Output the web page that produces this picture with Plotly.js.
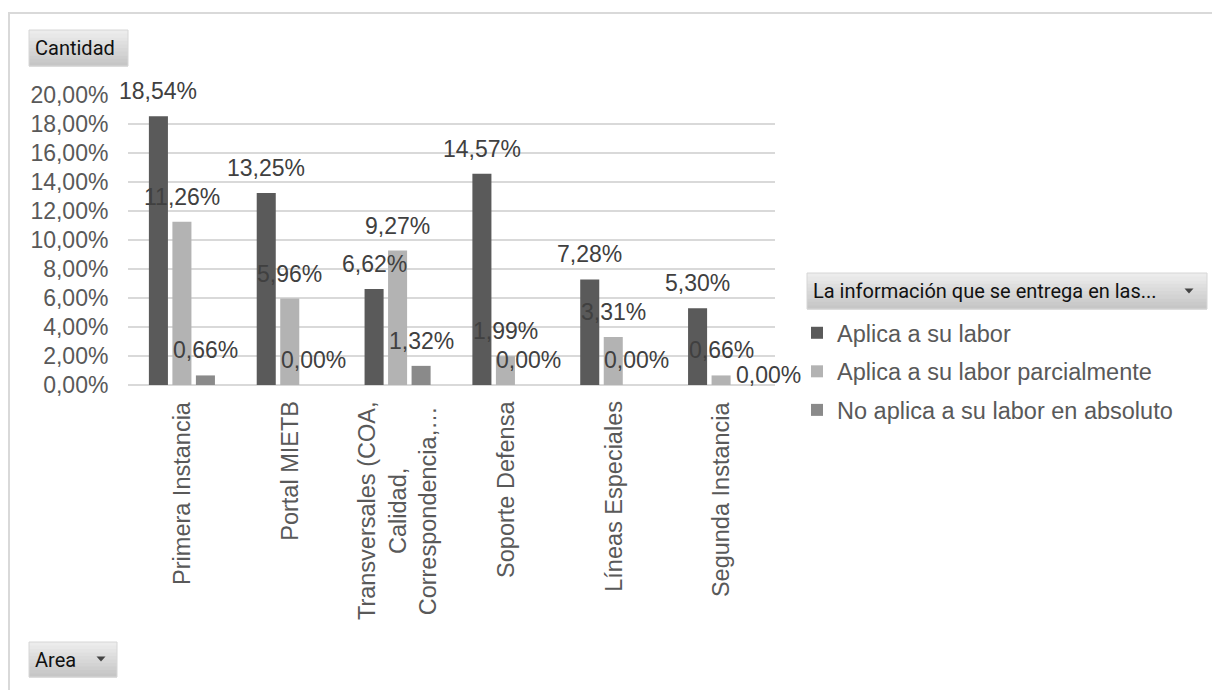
<!DOCTYPE html>
<html>
<head>
<meta charset="utf-8">
<script src="https://cdn.plot.ly/plotly-3.0.1.min.js"></script>
<style>
  html, body { margin: 0; padding: 0; background: #ffffff; }
  #chart { width: 1212px; height: 690px; }
</style>
</head>
<body>
<div id="chart"></div>
<script>
// Categories (x axis) and the wrapped text shown under each group
const areas = ['Primera Instancia', 'Portal MIETB', 'Transversales', 'Soporte Defensa', 'Líneas Especiales', 'Segunda Instancia'];
const areaLabels = ['Primera Instancia', 'Portal MIETB', 'Transversales (COA,<br>Calidad,<br>Correspondencia,…', 'Soporte Defensa', 'Líneas Especiales', 'Segunda Instancia'];

// Series values, in percent
const aplica = [18.54, 13.25, 6.62, 14.57, 7.28, 5.30];
const parcial = [11.26, 5.96, 9.27, 1.99, 3.31, 0.66];
const noAplica = [0.66, 0.00, 1.32, 0.00, 0.00, 0.00];
const seriesNames = ['Aplica a su labor', 'Aplica a su labor parcialmente', 'No aplica a su labor en absoluto'];

// Y axis ticks and their labels
const yTicks = [0, 2, 4, 6, 8, 10, 12, 14, 16, 18, 20];
const yTickText = ['0,00%', '2,00%', '4,00%', '6,00%', '8,00%', '10,00%', '12,00%', '14,00%', '16,00%', '18,00%', '20,00%'];

const seriesValues = [aplica, parcial, noAplica];
const seriesColors = ['#5a5a5a', '#b3b3b3', '#8a8a8a'];

const FONT = 'Liberation Sans, Arial, sans-serif';
const UI_FONT = 'Roboto, Noto Sans, sans-serif';
const W = 1212, H = 690;
const PL = 128, PR = 775, PT = 95, PB = 385;   // plot area edges in pixels
const BARGAP = 0.346, BARGROUPGAP = 0.19;

const px = v => (v - PL) / (PR - PL);
const py = v => (PB - v) / (PB - PT);

function fmt(v) {
  return v.toFixed(2).replace('.', ',') + '%';
}

const traces = seriesValues.map((vals, k) => ({
  type: 'bar',
  name: seriesNames[k],
  legendgroup: 'g' + k,
  x: areas,
  y: vals,
  marker: { color: seriesColors[k], line: { width: 0 } },
  hoverinfo: 'skip'
}));

const annotations = [];

// Value labels above each bar
const slot = (1 - BARGAP) / 3;
const nudges = { '5-2': { dx: 24, dy: -15 } };
seriesValues.forEach((vals, k) => {
  vals.forEach((v, i) => {
    const n = nudges[i + '-' + k] || { dx: 0, dy: 0 };
    annotations.push({
      xref: 'x', yref: 'y',
      x: i + (k - 1) * slot, y: v,
      text: fmt(v),
      showarrow: false,
      xanchor: 'center', yanchor: 'bottom',
      xshift: n.dx, yshift: 10 + n.dy,
      font: { family: FONT, size: 23, color: '#404040' }
    });
  });
});

// Rotated category labels
areaLabels.forEach((t, i) => {
  annotations.push({
    xref: 'x', yref: 'paper',
    x: i, y: 0,
    text: t,
    textangle: -90,
    align: 'center',
    showarrow: false,
    xanchor: 'center', yanchor: 'top',
    yshift: -14,
    font: { family: FONT, size: 23.5, color: '#595959' }
  });
});

// Field buttons
annotations.push({
  xref: 'paper', yref: 'paper', x: px(33), y: py(48),
  xanchor: 'left', yanchor: 'middle', showarrow: false,
  text: 'Cantidad', font: { family: UI_FONT, size: 20, color: '#111111' }
});
annotations.push({
  xref: 'paper', yref: 'paper', x: px(33), y: py(660),
  xanchor: 'left', yanchor: 'middle', showarrow: false,
  text: 'Area', font: { family: UI_FONT, size: 20, color: '#111111' }
});
annotations.push({
  xref: 'paper', yref: 'paper', x: px(811), y: py(291),
  xanchor: 'left', yanchor: 'middle', showarrow: false,
  text: 'La información que se entrega en las...', font: { family: UI_FONT, size: 20, color: '#111111' }
});

const shapes = [];

// Outer frame (top and left edges visible)
shapes.push({
  type: 'path', xref: 'paper', yref: 'paper',
  path: `M ${px(9)} ${py(700)} L ${px(9)} ${py(13)} L ${px(1230)} ${py(13)}`,
  line: { color: '#d9d9d9', width: 2 }, layer: 'below'
});

// Gray gradient button boxes
function button(x0, y0, x1, y1) {
  const bands = 10;
  const top = [236, 236, 236], bot = [198, 198, 198];
  for (let b = 0; b < bands; b++) {
    const f = b / (bands - 1);
    const c = top.map((t, j) => Math.round(t + (bot[j] - t) * f));
    const ya = y0 + (y1 - y0) * b / bands, yb = y0 + (y1 - y0) * (b + 1) / bands;
    shapes.push({
      type: 'rect', xref: 'paper', yref: 'paper',
      x0: px(x0), x1: px(x1), y0: py(ya), y1: py(yb + 0.5),
      fillcolor: `rgb(${c[0]},${c[1]},${c[2]})`, line: { width: 0 }, layer: 'below'
    });
  }
  shapes.push({
    type: 'rect', xref: 'paper', yref: 'paper',
    x0: px(x0), x1: px(x1), y0: py(y0), y1: py(y1),
    line: { color: '#d6d6d6', width: 1 }, layer: 'below'
  });
}
function arrow(cx, cy) {
  shapes.push({
    type: 'path', xref: 'paper', yref: 'paper',
    path: `M ${px(cx - 4.5)} ${py(cy - 2.5)} L ${px(cx + 4.5)} ${py(cy - 2.5)} L ${px(cx)} ${py(cy + 2.5)} Z`,
    fillcolor: '#444444', line: { width: 0 }
  });
}
button(29, 30, 128, 66);
button(29, 642, 117, 677);
arrow(101, 659);
button(807, 273, 1207, 309);
arrow(1189, 291);

const layout = {
  width: W, height: H, autosize: false,
  margin: { l: PL, r: W - PR, t: PT, b: H - PB, pad: 0 },
  paper_bgcolor: '#ffffff', plot_bgcolor: '#ffffff',
  barmode: 'group', bargap: BARGAP, bargroupgap: BARGROUPGAP,
  showlegend: true,
  legend: {
    x: px(797), xanchor: 'left',
    y: py(311), yanchor: 'top',
    font: { family: FONT, size: 23.5, color: '#595959' },
    tracegroupgap: 5, itemclick: false, itemdoubleclick: false,
    bgcolor: 'rgba(0,0,0,0)'
  },
  xaxis: {
    type: 'category', categoryorder: 'array', categoryarray: areas,
    range: [-0.5, areas.length - 0.5], autorange: false,
    showticklabels: false, ticks: '', showline: false, showgrid: false, zeroline: false,
    fixedrange: true
  },
  yaxis: {
    range: [0, 20], autorange: false,
    tickmode: 'array', tickvals: yTicks, ticktext: yTickText,
    showgrid: true, gridcolor: '#d9d9d9', gridwidth: 2,
    zeroline: true, zerolinecolor: '#d9d9d9', zerolinewidth: 2,
    showline: false, ticks: 'outside', ticklen: 14, tickcolor: 'rgba(0,0,0,0)',
    tickfont: { family: FONT, size: 23, color: '#595959' },
    fixedrange: true
  },
  annotations: annotations,
  shapes: shapes
};

Plotly.newPlot('chart', traces, layout, { displayModeBar: false, staticPlot: true });
</script>
</body>
</html>
